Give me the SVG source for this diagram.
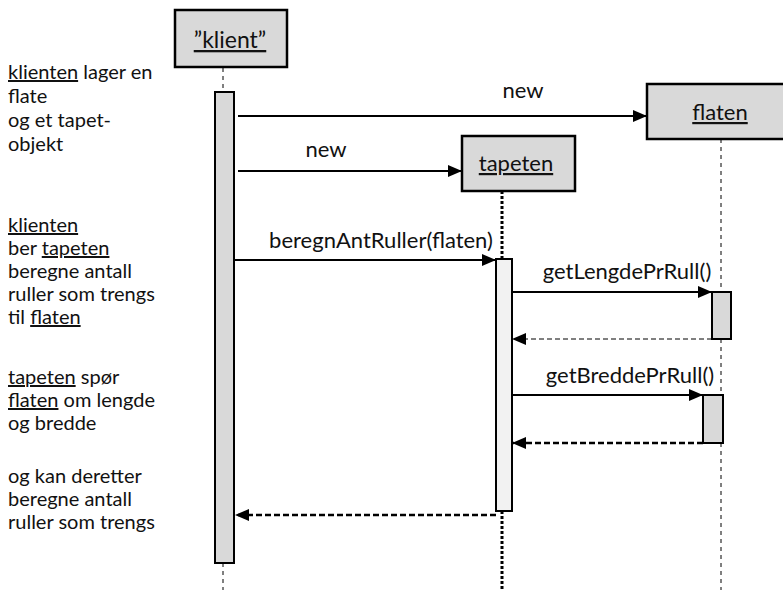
<svg xmlns="http://www.w3.org/2000/svg" width="783" height="590" viewBox="0 0 783 590">
<defs>
<marker id="ah" viewBox="0 0 14 12" refX="14" refY="6" markerWidth="14" markerHeight="12" markerUnits="userSpaceOnUse" orient="auto">
<path d="M0,0 L14,6 L0,12 Z" fill="#000"/>
</marker>
<style>
text{font-family:Lato,"Open Sans","Liberation Sans",sans-serif;font-size:20px;fill:#111}
.lbl{font-size:22px}
.u{text-decoration:underline}
.box{fill:#d9d9d9;stroke:#000;stroke-width:2.5}
.act{fill:#d9d9d9;stroke:#000;stroke-width:2}
.act2{fill:#f2f2f2;stroke:#000;stroke-width:2}
.life{stroke:#000;stroke-width:1;stroke-dasharray:4 4;fill:none}
.lifeT{stroke:#000;stroke-width:3;stroke-dasharray:3 2;fill:none}
.msg{stroke:#000;stroke-width:2;fill:none}
.ret{stroke:#000;stroke-width:1;stroke-dasharray:5 3;fill:none}
.retT{stroke:#000;stroke-width:2.5;stroke-dasharray:6 3;fill:none}
</style>
</defs>
<rect width="783" height="590" fill="#fff"/>

<g id="notes">
<text x="8" y="79"><tspan class="u">klienten</tspan> lager en</text>
<text x="8" y="103">flate</text>
<text x="8" y="127">og et tapet-</text>
<text x="8" y="151">objekt</text>
<text x="8" y="232" class="u">klienten</text>
<text x="8" y="255">ber <tspan class="u">tapeten</tspan></text>
<text x="8" y="278">beregne antall</text>
<text x="8" y="301">ruller som trengs</text>
<text x="8" y="324">til <tspan class="u">flaten</tspan></text>
<text x="8" y="384"><tspan class="u">tapeten</tspan> spør</text>
<text x="8" y="407"><tspan class="u">flaten</tspan> om lengde</text>
<text x="8" y="430">og bredde</text>
<text x="8" y="483">og kan deretter</text>
<text x="8" y="506">beregne antall</text>
<text x="8" y="529">ruller som trengs</text>
</g>

<g id="lifelines">
<line class="life" x1="223" y1="68" x2="223" y2="91"/>
<line class="life" x1="223" y1="563" x2="223" y2="590"/>
<line class="life" x1="721" y1="139" x2="721" y2="590"/>
<line class="lifeT" x1="502" y1="191" x2="502" y2="259"/>
<line class="lifeT" x1="502" y1="511" x2="502" y2="590"/>
</g>

<g id="klient">
<rect class="box" x="175" y="10" width="112" height="57"/>
<text x="230" y="48" text-anchor="middle" class="lbl u" style="font-size:23px">”klient”</text>
<rect class="act" x="215" y="92" width="19" height="471"/>
</g>

<g id="flaten">
<rect class="box" x="647" y="84" width="150" height="55"/>
<text x="720" y="120" text-anchor="middle" class="lbl u">flaten</text>
<rect class="act" x="712" y="292" width="19" height="47"/>
<rect class="act" x="703" y="395" width="20" height="48"/>
</g>

<g id="tapeten">
<rect class="box" x="462" y="136" width="113" height="55"/>
<text x="516" y="171" text-anchor="middle" class="lbl u">tapeten</text>
<rect class="act2" x="496" y="259" width="16" height="252"/>
</g>

<g id="connectors">
<line class="msg" x1="238" y1="116" x2="647" y2="116" marker-end="url(#ah)"/>
<text x="523" y="98" text-anchor="middle" class="lbl">new</text>
<line class="msg" x1="238" y1="171" x2="462" y2="171" marker-end="url(#ah)"/>
<text x="326" y="157" text-anchor="middle" class="lbl">new</text>
<line class="msg" x1="235" y1="260" x2="496" y2="260" marker-end="url(#ah)"/>
<text x="381" y="248" text-anchor="middle" class="lbl">beregnAntRuller(flaten)</text>
<line class="msg" x1="512" y1="292" x2="712" y2="292" marker-end="url(#ah)"/>
<text x="627" y="279" text-anchor="middle" class="lbl">getLengdePrRull()</text>
<line class="ret" x1="712" y1="339" x2="512" y2="339" marker-end="url(#ah)"/>
<line class="msg" x1="512" y1="395" x2="703" y2="395" marker-end="url(#ah)"/>
<text x="630" y="383" text-anchor="middle" class="lbl">getBreddePrRull()</text>
<line class="retT" x1="703" y1="443" x2="512" y2="443" marker-end="url(#ah)"/>
<line class="retT" x1="496" y1="515" x2="235" y2="515" marker-end="url(#ah)"/>
</g>
</svg>
